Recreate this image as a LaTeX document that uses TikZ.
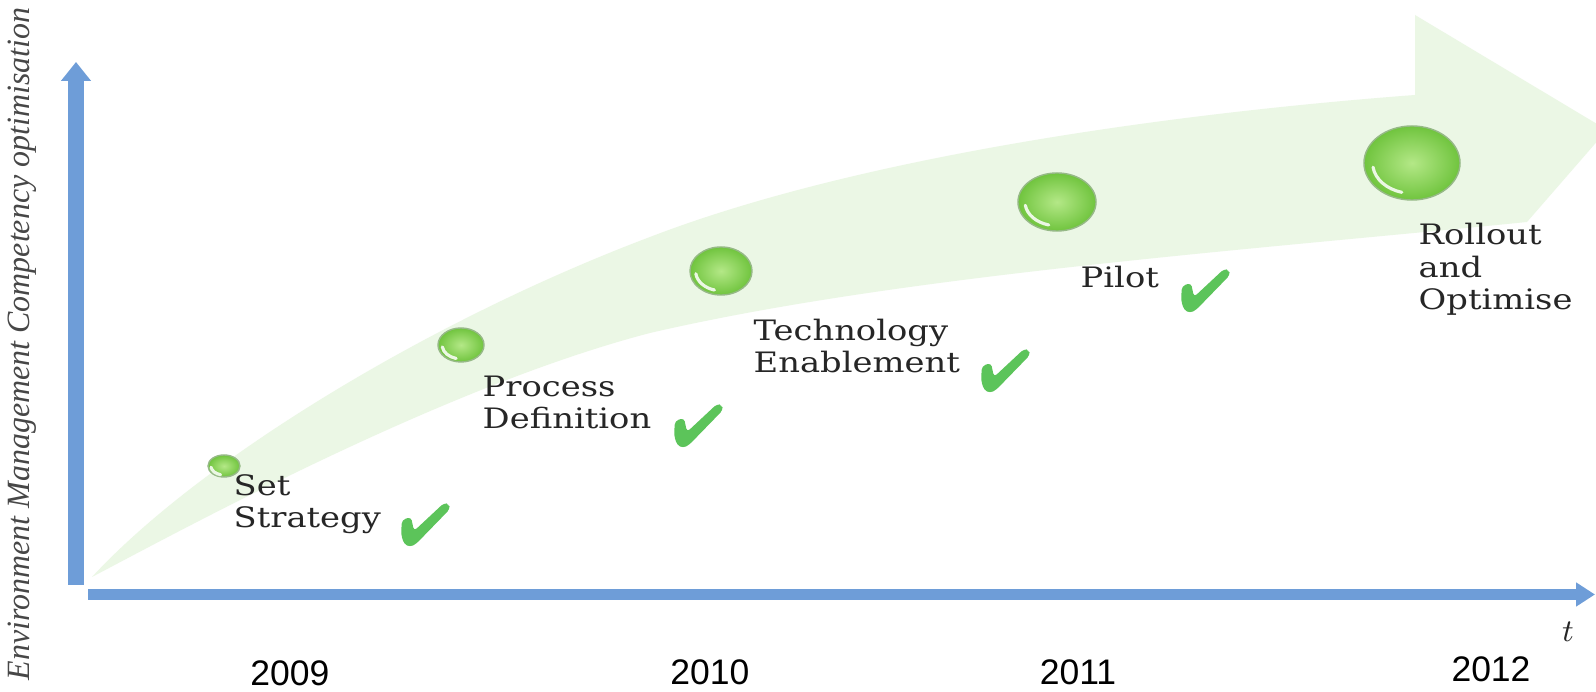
\documentclass[tikz,border=0pt]{standalone}
\usepackage{fontspec}
\usepackage{graphicx}
\setmainfont{DejaVu Serif}
\newfontfamily\lblfont[FakeStretch=1.2]{DejaVu Serif}
\newfontfamily\yearfont{Liberation Sans}
\newfontfamily\axfont{Liberation Serif}
\usetikzlibrary{arrows.meta,shapes.geometric,calc}
\definecolor{axisblue}{RGB}{110,157,216}
\definecolor{bandgreen}{RGB}{222,241,211}
\definecolor{bandlight}{RGB}{235,247,229}
\definecolor{chkgreen}{RGB}{92,196,90}
\definecolor{txtgray}{RGB}{38,38,38}
\definecolor{bubin}{RGB}{180,232,135}
\definecolor{bubout}{RGB}{112,196,62}
\definecolor{bubrim}{RGB}{150,185,135}
\newcommand\bub[5]{%
  \node[bubble, minimum width=#4*0.02cm, minimum height=#5*0.02cm] (#1) at (#2,#3) {};
  \draw[hilite] ($(#1.center)+({0.82*#4*cos(105)},{0.82*#5*sin(105)})$)
     arc[start angle=105, end angle=172, x radius=0.82*#4, y radius=0.82*#5];
}
\begin{document}
\begin{tikzpicture}[x=0.01cm,y=-0.01cm,
  axis/.style={draw=axisblue},
  bubble/.style={ellipse, inner sep=0pt, shading=radial, inner color=bubin, outer color=bubout, draw=bubrim, line width=0.4pt},
  hilite/.style={white, line width=0.9pt, line cap=round, opacity=0.85},
  lbl/.style={font=\lblfont\fontsize{8pt}{9.3pt}\selectfont, text=txtgray, align=left, anchor=base west, inner sep=0pt},
  year/.style={font=\yearfont\fontsize{10.1pt}{12pt}\selectfont, anchor=base, inner sep=0pt},
  chk/.pic={\fill[chkgreen, rounded corners=1pt] (2,18) -- (11,15) -- (14,29) -- (44,1) -- (49,2) -- (50,7) -- (16,42) -- (10,45) -- (4,42) -- (1,32) -- cycle;}
]
\useasboundingbox (0,0) rectangle (1596,692);
\fill[white] (0,0) rectangle (1596,692);

% big curved arrow band
\shade[left color=bandlight, middle color=bandgreen, right color=bandlight]
  (92,577) .. controls (200,460) and (430,320) .. (650,237)
  .. controls (850,160) and (1150,115) .. (1415,95)
  -- (1415,15) -- (1607,130) -- (1527,222)
  .. controls (1250,250) and (900,275) .. (650,333)
  .. controls (450,385) and (200,520) .. (92,577) -- cycle;

% axes
\coordinate (yb) at (76,585);
\coordinate (yt) at (76,62);
\coordinate (xb) at (88,594.5);
\coordinate (xt) at (1595,594.5);
\draw[axis, line width=0.15cm, -{Triangle[width=0.29cm,length=0.19cm]}] (yb) -- (yt);
\draw[axis, line width=0.11cm, -{Triangle[width=0.23cm,length=0.19cm]}] (xb) -- (xt);

% bubbles
\bub{b1}{224}{466}{16}{11}
\bub{b2}{461}{345}{23}{17}
\bub{b3}{721}{271}{31}{24}
\bub{b4}{1057}{202}{39}{29}
\bub{b5}{1412}{163}{48}{37}

% labels (anchor = baseline of last line)
\node[lbl] (l1) at (233,528) {Set\\Strategy};
\node[lbl] (l2) at (482,429) {Process\\Definition};
\node[lbl] (l3) at (753,373) {Technology\\Enablement};
\node[lbl] (l4) at (1080,288) {Pilot};
\node[lbl] (l5) at (1418,310) {Rollout\\and\\Optimise};

% check marks
\pic (c1) at (400,502) {chk};
\pic (c2) at (673,403) {chk};
\pic (c3) at (980,348) {chk};
\pic (c4) at (1180,268) {chk};

% years
\node[year] (y1) at (290,686) {2009};
\node[year] (y2) at (710,685) {2010};
\node[year] (y3) at (1078,685) {2011};
\node[year] (y4) at (1491,682) {2012};

% axis labels
\node[font=\fontsize{9.3pt}{11pt}\selectfont, anchor=base, inner sep=0pt, text=txtgray] (tl) at (1568,642) {$t$};
\node[rotate=90, inner sep=0pt, text=txtgray!85!white] (yl) at (22.4,344)
  {\resizebox*{6.72cm}{0.285cm}{\axfont\itshape Environment Management Competency optimisation}};
\end{tikzpicture}
\end{document}
